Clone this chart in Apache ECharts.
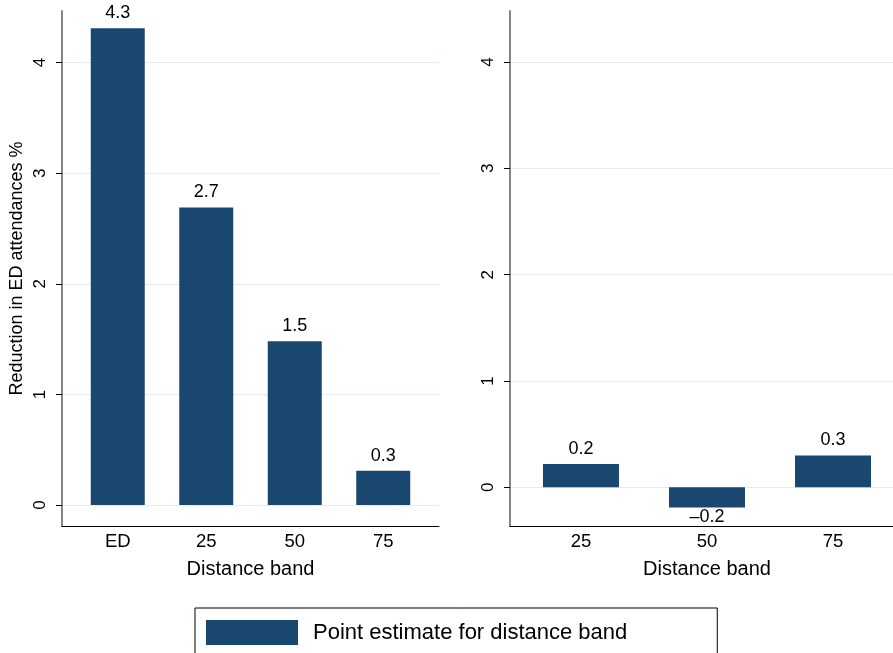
<!DOCTYPE html>
<html>
<head>
<meta charset="utf-8">
<script src="https://cdn.jsdelivr.net/npm/echarts@6/dist/echarts.min.js"></script>
<style>
  html, body { margin: 0; padding: 0; background: #fff; }
  #chart { width: 893px; height: 653px; }
</style>
</head>
<body>
<div id="chart"></div>
<script>
// Reduction in ED attendances by distance band
const leftCategories = ['ED', '25', '50', '75'];
const leftValues = [4.31, 2.69, 1.48, 0.31];
const rightCategories = ['25', '50', '75'];
const rightValues = [0.22, -0.19, 0.30];
const yTickValues = [0, 1, 2, 3, 4];
const seriesName = 'Point estimate for distance band';
const yAxisTitle = 'Reduction in ED attendances %';
const xAxisTitle = 'Distance band';

const FONT = "'Liberation Sans', Arial, Helvetica, sans-serif";
const NAVY = '#1a476f';
const GRID_COLOR = '#e4ecef';

function fmtValue(v) {
  const s = Math.abs(v).toFixed(1);
  return v < 0 ? '\u2013' + s : s;
}

// category positions on a numeric x scale: 1..n
function barData(values) {
  return values.map((v, i) => ({
    value: [i + 1, v],
    label: { position: v < 0 ? 'bottom' : 'top', distance: v < 0 ? 1 : 6 }
  }));
}

function xAxisFor(gridIndex, cats, min, max, titleShift) {
  return {
    type: 'value',
    gridIndex,
    min, max,
    name: xAxisTitle,
    nameLocation: 'middle',
    nameGap: 33,
    nameTextStyle: { fontFamily: FONT, fontSize: 20, color: '#000', padding: [0, 0, 0, titleShift] },
    axisLine: { show: true, onZero: false, lineStyle: { color: '#000', width: 1 } },
    axisTick: { show: false },
    splitLine: { show: false },
    axisLabel: {
      customValues: cats.map((c, i) => i + 1),
      formatter: v => cats[Math.round(v) - 1] || '',
      fontFamily: FONT, fontSize: 18.5, color: '#000', margin: 6
    }
  };
}

function yAxisFor(gridIndex, min, max, withTitle) {
  return {
    type: 'value',
    gridIndex,
    min, max,
    name: withTitle ? yAxisTitle : '',
    nameLocation: 'middle',
    nameRotate: 90,
    nameGap: 36,
    nameTextStyle: { fontFamily: FONT, fontSize: 18, color: '#000' },
    axisLine: { show: true, onZero: false, lineStyle: { color: '#858585', width: 2 } },
    axisTick: { show: true, customValues: yTickValues, length: 6, lineStyle: { color: '#000', width: 1 } },
    splitLine: { show: true, lineStyle: { color: GRID_COLOR, width: 1 } },
    axisLabel: {
      customValues: yTickValues,
      rotate: 90,
      fontFamily: FONT, fontSize: 17, color: '#000', margin: 13
    }
  };
}

const barLabel = {
  show: true,
  fontFamily: FONT, fontSize: 18, color: '#000',
  formatter: p => fmtValue(p.value[1])
};

const chart = echarts.init(document.getElementById('chart'), null, { renderer: 'canvas' });
chart.setOption({
  animation: false,
  backgroundColor: '#fff',
  grid: [
    { left: 62, width: 377, top: 11, bottom: 127, containLabel: false },
    { left: 510, right: 0, top: 11, bottom: 127, containLabel: false }
  ],
  xAxis: [
    xAxisFor(0, leftCategories, 0.37, 4.63, 0),
    xAxisFor(1, rightCategories, 0.437, 3.476, 11)
  ],
  yAxis: [
    yAxisFor(0, -0.19, 4.467, true),
    yAxisFor(1, -0.364, 4.48, false)
  ],
  legend: {
    data: [{ name: seriesName, icon: 'rect' }],
    left: 195, top: 608,
    orient: 'horizontal',
    itemWidth: 92, itemHeight: 25,
    padding: [12, 90, 12, 11],
    borderColor: '#000', borderWidth: 1,
    textStyle: { fontFamily: FONT, fontSize: 22, color: '#000', padding: [0, 0, 0, 10] },
    selectedMode: false
  },
  series: [
    {
      name: seriesName, type: 'bar',
      xAxisIndex: 0, yAxisIndex: 0,
      barWidth: 54,
      itemStyle: { color: NAVY },
      label: barLabel,
      data: barData(leftValues)
    },
    {
      name: seriesName, type: 'bar',
      xAxisIndex: 1, yAxisIndex: 1,
      barWidth: 76,
      itemStyle: { color: NAVY },
      label: barLabel,
      data: barData(rightValues)
    }
  ]
});
</script>
</body>
</html>
